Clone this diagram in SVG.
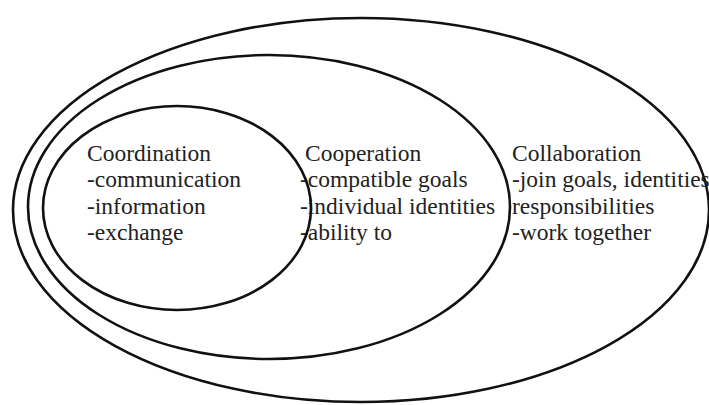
<svg xmlns="http://www.w3.org/2000/svg" width="709" height="405" viewBox="0 0 709 405">
<style>
.ring{fill:none;stroke:#111;stroke-width:2.6}
text{font-family:'Liberation Serif','DejaVu Serif',serif;font-size:23.5px;fill:#222}
</style>
<rect width="709" height="405" fill="#fff"/>
<g id="collaboration">
<ellipse class="ring" cx="361" cy="210" rx="348" ry="192"/>
<text x="512" y="161" font-family="Liberation Serif, serif">Collaboration</text>
<text x="512" y="187" font-family="Liberation Serif, serif">-join goals, identities</text>
<text x="512" y="214" font-family="Liberation Serif, serif">responsibilities</text>
<text x="512" y="240" font-family="Liberation Serif, serif">-work together</text>
</g>
<g id="cooperation">
<ellipse class="ring" cx="269" cy="207" rx="241" ry="152"/>
<text x="305" y="161" font-family="Liberation Serif, serif">Cooperation</text>
<text x="300" y="187" font-family="Liberation Serif, serif">-compatible goals</text>
<text x="300" y="214" font-family="Liberation Serif, serif">-individual identities</text>
<text x="300" y="240" font-family="Liberation Serif, serif">-ability to</text>
</g>
<g id="coordination">
<ellipse class="ring" cx="177" cy="208" rx="134" ry="102"/>
<text x="87" y="161" font-family="Liberation Serif, serif">Coordination</text>
<text x="87" y="187" font-family="Liberation Serif, serif">-communication</text>
<text x="87" y="214" font-family="Liberation Serif, serif">-information</text>
<text x="87" y="240" font-family="Liberation Serif, serif">-exchange</text>
</g>
<g id="connectors"/>
</svg>
